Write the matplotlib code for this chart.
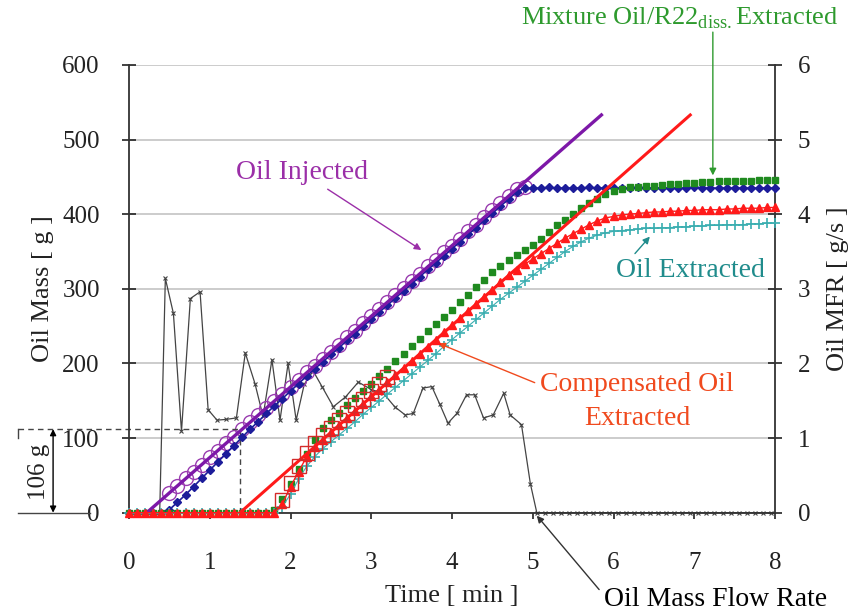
import numpy as np
import matplotlib.pyplot as plt

plt.rcParams['font.family'] = ['Liberation Serif', 'DejaVu Serif']
plt.rcParams['mathtext.fontset'] = 'custom'
plt.rcParams['mathtext.rm'] = 'Liberation Serif'

# sampling times of the mass readings [min]
t = np.round(np.arange(0, 8.05, 0.1), 1)

# oil injected, measured [g]
injected = [0, 0, 0, 0, 0,
            4, 14, 24, 35, 46, 57, 68, 79, 90, 101,
            112, 122, 133, 143, 153, 163, 173, 183, 193, 202,
            212, 221, 231, 240, 250, 259, 269, 278, 288, 297,
            307, 316, 326, 335, 344, 354, 363, 373, 382, 392,
            401, 411, 420, 430, 435, 435, 435, 436, 435, 435,
            435, 435, 436, 435, 435, 435, 435, 435, 436, 435,
            435, 435, 435, 435, 435, 436, 435, 435, 435, 435,
            435, 435, 435, 435, 435, 435]

# mixture oil/R22 extracted [g]
mixture = [0, 0, 0, 0, 0, 0, 0, 0, 0, 0, 0, 0, 0, 0, 0,
           0, 0, 0, 3, 18, 38, 58, 78, 97, 114,
           124, 134, 144, 154, 163, 173, 183, 193, 203, 213,
           223, 233, 243, 253, 262, 272, 282, 292, 302, 312,
           322, 330, 338, 345, 352, 359, 367, 376, 385, 392,
           400, 408, 415, 421, 427, 431, 434, 436, 437, 438,
           438, 439, 440, 441, 442, 442, 443, 443, 444, 444,
           445, 445, 445, 446, 446, 446]

# compensated oil extracted [g]
compensated = [0, 0, 0, 0, 0, 0, 0, 0, 0, 0, 0, 0, 0, 0, 0,
               0, 0, 0, 0, 12, 35, 55, 75, 88, 98,
               108, 117, 127, 136, 146, 156, 165, 175, 184, 194,
               203, 213, 222, 232, 242, 251, 261, 270, 280, 289,
               299, 309, 318, 325, 333, 340, 347, 354, 361, 368,
               374, 380, 386, 391, 395, 397, 399, 400, 401, 402,
               403, 403, 404, 404, 405, 405, 406, 406, 406, 407,
               407, 408, 408, 408, 409, 409]

# oil extracted [g]
extracted = [0, 0, 0, 0, 0, 0, 0, 0, 0, 0, 0, 0, 0, 0, 0,
             0, 0, 0, 0, 8, 25, 45, 62, 75, 86,
             95, 104, 113, 122, 132, 141, 150, 159, 168, 177,
             186, 195, 204, 213, 223, 232, 241, 250, 259, 268,
             277, 286, 294, 302, 310, 318, 326, 334, 342, 350,
             357, 363, 368, 372, 375, 377, 378, 379, 380, 381,
             381, 382, 382, 383, 383, 384, 384, 385, 385, 386,
             386, 386, 387, 387, 388, 388]

# oil injected, calculated (open circles)
t_circ = np.round(np.arange(0.5, 4.95, 0.1), 1)
injected_calc = [27, 36, 46, 55, 64, 74, 83, 93, 102, 112,
                 121, 131, 140, 150, 159, 169, 178, 188, 197, 206,
                 216, 225, 235, 244, 254, 263, 273, 282, 292, 301,
                 311, 320, 330, 339, 349, 358, 367, 377, 386, 396,
                 405, 415, 424, 434, 437]

# compensated extraction, first minute (open squares)
t_sq = [1.9, 2.0, 2.1, 2.2, 2.3, 2.4, 2.5, 2.6, 2.7, 2.8, 2.9, 3.0, 3.1, 3.2]
comp_sq = [17, 40, 62, 80, 93, 104, 114, 124, 134, 144, 153, 163, 172, 182]

# straight fits: injection and compensated extraction
inj_fit_t = [0.22, 5.85]
inj_fit_y = [0, 533]
ext_fit_t = [1.375, 6.95]
ext_fit_y = [0, 533]

# oil mass flow rate [g/s]
mfr_t = [0.0, 0.1, 0.2, 0.3, 0.38, 0.45, 0.55, 0.65, 0.76, 0.88,
         0.98, 1.09, 1.2, 1.33, 1.44, 1.56, 1.66, 1.77, 1.87, 1.97,
         2.07, 2.17, 2.28, 2.39, 2.53, 2.68, 2.84, 3.0, 3.15, 3.29,
         3.42, 3.52, 3.64, 3.75, 3.85, 3.95, 4.06, 4.18, 4.28, 4.39,
         4.51, 4.64, 4.72, 4.86, 4.97, 5.05] + list(np.round(np.arange(5.15, 8.01, 0.1), 2))
mfr_v = [0, 0, 0, 0, 0, 3.14, 2.67, 1.09, 2.87, 2.96,
         1.38, 1.24, 1.25, 1.27, 2.14, 1.73, 1.29, 2.05, 1.24, 2.0,
         1.24, 1.72, 1.9, 1.69, 1.42, 1.55, 1.75, 1.65, 1.6, 1.42,
         1.31, 1.33, 1.67, 1.69, 1.45, 1.2, 1.33, 1.58, 1.58, 1.27,
         1.31, 1.6, 1.31, 1.18, 0.39, 0] + [0] * 29

dim_x = -0.94      # position of the 106 g dimension arrow
dim_top = 112
start_t = 1.375

fig = plt.figure(figsize=(8.6, 6.14), dpi=100)
ax = fig.add_axes([0.15, 0.165, 0.7512, 0.7292])
ax2 = ax.twinx()
ax.set_zorder(ax2.get_zorder() + 1)
ax.patch.set_visible(False)

# right axis: flow rate + grid
ax2.set_ylim(0, 6)
ax2.set_yticks(range(7))
ax2.grid(axis='y', color='#c8c8c8', lw=1.3)
ax2.set_axisbelow(True)
ax2.plot(mfr_t, mfr_v, color='#444444', lw=0.9, marker='x', ms=3, mew=0.8,
         clip_on=False)
for s in ['top', 'left', 'bottom']:
    ax2.spines[s].set_visible(False)
ax2.spines['right'].set_color('#333333')
ax2.spines['right'].set_linewidth(1.3)
ax2.tick_params(axis='y', direction='inout', length=10, width=1.2,
                labelsize=18, pad=11.5, colors='#222222')
ax2.set_ylabel('Oil MFR [ g/s ]', fontsize=19, rotation=90, labelpad=12,
               color='#222222')

# left axis: masses
ax.plot(t_circ, injected_calc, ls='none', marker='o', ms=10, mfc='none',
        mec='#9a3db0', mew=1.0, zorder=2, clip_on=False)
ax.plot(t, injected, color='#1c1c9a', lw=1.2, marker='D', ms=4, zorder=3,
        clip_on=False)
ax.plot(inj_fit_t, inj_fit_y, color='#7d18a8', lw=2.4, zorder=4)
ax.plot(t, mixture, ls='none', marker='s', ms=4.5, color='#1f8a1f', zorder=3,
        clip_on=False)
ax.plot(t, extracted, color='#3aaeb0', lw=0.8, marker='+', ms=7, mew=1.2,
        zorder=3, clip_on=False)
ax.plot(t, compensated, color='#ff1a1a', lw=1.0, marker='^', ms=5.5, zorder=4,
        clip_on=False)
ax.plot(ext_fit_t, ext_fit_y, color='#ff1a1a', lw=2.2, zorder=5)
ax.plot(t_sq, comp_sq, ls='none', marker='s', ms=10, mfc='none',
        mec='#d42a2a', mew=1.0, zorder=6)

ax.set_xlim(0, 8)
ax.set_ylim(0, 600)
ax.set_xticks(range(9))
ax.set_yticks(range(0, 601, 100))
for s in ['top', 'right']:
    ax.spines[s].set_visible(False)
for s in ['left', 'bottom']:
    ax.spines[s].set_color('#333333')
    ax.spines[s].set_linewidth(1.3)
ax.tick_params(axis='y', direction='inout', length=10, width=1.2,
               labelsize=18, pad=16, colors='#222222')
ax.tick_params(axis='x', direction='out', length=4, width=1.2,
               labelsize=18, pad=24, colors='#222222')
ax.set_xlabel('Time [ min ]', fontsize=19, labelpad=8, color='#222222')
ax.set_ylabel('Oil Mass [ g ]', fontsize=19, labelpad=6, color='#222222')

# 106 g start-up delay construction
ax.plot([start_t, start_t], [0, dim_top], color='#444444', lw=1, ls='--',
        dashes=(4, 3))
ax.plot([-1.375, start_t], [dim_top, dim_top], color='#444444', lw=1,
        ls='--', dashes=(4, 3), clip_on=False)
ax.plot([-1.375, -0.48], [0, 0], color='#444444', lw=1, clip_on=False)
ax.plot([-1.375, -1.375], [dim_top, dim_top - 12], color='#444444', lw=1,
        clip_on=False)
ax.annotate('', xy=(dim_x, 0), xytext=(dim_x, dim_top),
            arrowprops=dict(arrowstyle='<|-|>', color='black', lw=1,
                            shrinkA=0, shrinkB=0, mutation_scale=9),
            annotation_clip=False)
ax.text(-1.115, 55, '106 g', rotation=90, fontsize=18, ha='center',
        va='center', color='#222222')

# labels
arrow = dict(arrowstyle='-|>', lw=1, mutation_scale=10, shrinkB=0)
ax.annotate('Oil Injected', xy=(3.62, 352), xytext=(2.14, 456),
            ha='center', va='center', fontsize=20, color='#9b2fa8',
            arrowprops=dict(arrow, color='#9b2fa8'))
ax.annotate('Oil Extracted', xy=(6.45, 370), xytext=(6.95, 324),
            ha='center', va='center', fontsize=20, color='#208c8c',
            arrowprops=dict(arrow, color='#208c8c', relpos=(0.1, 1.0)))
ax.annotate('Compensated Oil\nExtracted', xy=(3.83, 227), xytext=(6.29, 149),
            ha='center', va='center', fontsize=20, color='#f04a1e',
            linespacing=1.5,
            arrowprops=dict(arrow, color='#f04a1e', relpos=(0.0, 0.78)))
ax.text(6.82, 663, 'Mixture Oil/R22$_{\\mathrm{diss.}}$Extracted',
        ha='center', va='center', fontsize=19, color='#2e9a2e')
ax.annotate('', xy=(7.23, 452), xytext=(7.23, 644),
            arrowprops=dict(arrow, color='#2e9a2e', shrinkA=0),
            annotation_clip=False)
ax.annotate('Oil Mass Flow Rate', xy=(5.05, -4), xytext=(7.26, -117),
            ha='center', va='center', fontsize=20, color='black',
            arrowprops=dict(arrow, color='#333333', relpos=(0.0, 0.7)),
            annotation_clip=False)

fig.savefig('out.png', dpi=100)
